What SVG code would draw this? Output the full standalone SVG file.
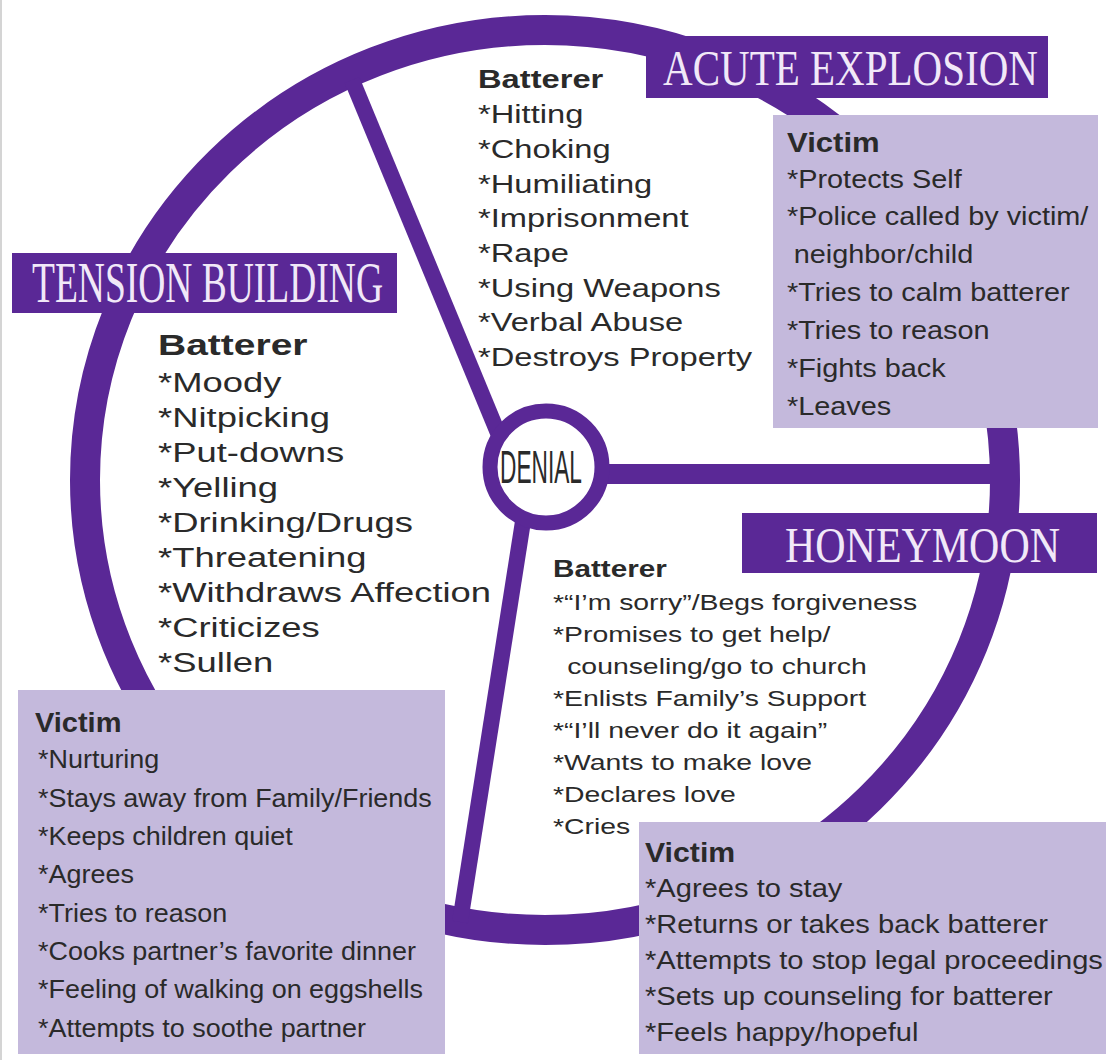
<svg xmlns="http://www.w3.org/2000/svg" width="1109" height="1060" viewBox="0 0 1109 1060">
<style>
.ring{fill:none;stroke:#5a2896;stroke-width:30}
.spoke{stroke:#5a2896;fill:none}
.banner{fill:#5a2896}
.btxt{font-family:"Liberation Serif","Times New Roman",serif;fill:#f1e8f8}
.box{fill:#c4b9dc}
.t{font-family:"Liberation Sans",Arial,sans-serif;fill:#2a2a2a}
.h{font-weight:bold}
</style>
<rect x="0" y="0" width="1109" height="1060" fill="#ffffff"/>
<line x1="1" y1="0" x2="1" y2="1060" stroke="#d4d4d4" stroke-width="2"/>

<g id="connectors">
  <ellipse class="ring" cx="545" cy="480" rx="460" ry="450"/>
  <line class="spoke" x1="352" y1="80" x2="505" y2="450" stroke-width="16"/>
  <line class="spoke" x1="524" y1="515" x2="460" y2="922" stroke-width="16"/>
  <line class="spoke" x1="560" y1="474" x2="1005" y2="474" stroke-width="20"/>
</g>

<g id="denial">
  <circle cx="546" cy="467" r="56" fill="#ffffff" stroke="#5a2896" stroke-width="15"/>
  <text class="t" x="500" y="483" font-size="46" textLength="82" lengthAdjust="spacingAndGlyphs" fill="#3c3c3c">DENIAL</text>
</g>

<g id="acute-banner">
  <rect class="banner" x="646" y="36" width="402" height="62"/>
  <text class="btxt" x="663" y="85" font-size="50" textLength="375" lengthAdjust="spacingAndGlyphs">ACUTE EXPLOSION</text>
</g>

<g id="tension-banner">
  <rect class="banner" x="12" y="253" width="385" height="60"/>
  <text class="btxt" x="32" y="302" font-size="56" textLength="351" lengthAdjust="spacingAndGlyphs">TENSION BUILDING</text>
</g>

<g id="honeymoon-banner">
  <rect class="banner" x="742" y="513" width="355" height="60"/>
  <text class="btxt" x="785" y="562" font-size="50" textLength="275" lengthAdjust="spacingAndGlyphs">HONEYMOON</text>
</g>

<g id="acute-batterer" transform="translate(478,0) scale(1.257,1)">
  <text class="t h" x="0" y="88" font-size="26">Batterer</text>
  <text class="t" font-size="26">
    <tspan x="0" y="123">*Hitting</tspan>
    <tspan x="0" y="158">*Choking</tspan>
    <tspan x="0" y="193">*Humiliating</tspan>
    <tspan x="0" y="227">*Imprisonment</tspan>
    <tspan x="0" y="262">*Rape</tspan>
    <tspan x="0" y="297">*Using Weapons</tspan>
    <tspan x="0" y="331">*Verbal Abuse</tspan>
    <tspan x="0" y="366">*Destroys Property</tspan>
  </text>
</g>

<g id="acute-victim">
  <rect class="box" x="773" y="115" width="325" height="313"/>
  <g transform="translate(787,0) scale(1.11,1)">
    <text class="t h" x="0" y="152" font-size="28">Victim</text>
    <text class="t" font-size="26">
      <tspan x="0" y="188">*Protects Self</tspan>
      <tspan x="0" y="225">*Police called by victim/</tspan>
      <tspan x="6" y="263">neighbor/child</tspan>
      <tspan x="0" y="301">*Tries to calm batterer</tspan>
      <tspan x="0" y="339">*Tries to reason</tspan>
      <tspan x="0" y="377">*Fights back</tspan>
      <tspan x="0" y="415">*Leaves</tspan>
    </text>
  </g>
</g>

<g id="tension-batterer" transform="translate(158,0) scale(1.3,1)">
  <text class="t h" x="0" y="355" font-size="30">Batterer</text>
  <text class="t" font-size="28">
    <tspan x="0" y="392">*Moody</tspan>
    <tspan x="0" y="427">*Nitpicking</tspan>
    <tspan x="0" y="462">*Put-downs</tspan>
    <tspan x="0" y="497">*Yelling</tspan>
    <tspan x="0" y="532">*Drinking/Drugs</tspan>
    <tspan x="0" y="567">*Threatening</tspan>
    <tspan x="0" y="602">*Withdraws Affection</tspan>
    <tspan x="0" y="637">*Criticizes</tspan>
    <tspan x="0" y="672">*Sullen</tspan>
  </text>
</g>

<g id="tension-victim">
  <rect class="box" x="18" y="690" width="427" height="364"/>
  <g transform="translate(38,0) scale(1.037,1)">
    <text class="t h" x="-3" y="732" font-size="28">Victim</text>
    <text class="t" font-size="26">
      <tspan x="0" y="768">*Nurturing</tspan>
      <tspan x="0" y="807">*Stays away from Family/Friends</tspan>
      <tspan x="0" y="845">*Keeps children quiet</tspan>
      <tspan x="0" y="883">*Agrees</tspan>
      <tspan x="0" y="922">*Tries to reason</tspan>
      <tspan x="0" y="960">*Cooks partner’s favorite dinner</tspan>
      <tspan x="0" y="998">*Feeling of walking on eggshells</tspan>
      <tspan x="0" y="1037">*Attempts to soothe partner</tspan>
    </text>
  </g>
</g>

<g id="honeymoon-batterer" transform="translate(553,0) scale(1.29,1)">
  <text class="t h" x="0" y="577" font-size="23">Batterer</text>
  <text class="t" font-size="22">
    <tspan x="0" y="610">*“I’m sorry”/Begs forgiveness</tspan>
    <tspan x="0" y="642">*Promises to get help/</tspan>
    <tspan x="11" y="674">counseling/go to church</tspan>
    <tspan x="0" y="706">*Enlists Family’s Support</tspan>
    <tspan x="0" y="738">*“I’ll never do it again”</tspan>
    <tspan x="0" y="770">*Wants to make love</tspan>
    <tspan x="0" y="802">*Declares love</tspan>
    <tspan x="0" y="834">*Cries</tspan>
  </text>
</g>

<g id="honeymoon-victim">
  <rect class="box" x="639" y="822" width="467" height="232"/>
  <g transform="translate(645,0) scale(1.12,1)">
    <text class="t h" x="0" y="862" font-size="27">Victim</text>
    <text class="t" font-size="26">
      <tspan x="0" y="897">*Agrees to stay</tspan>
      <tspan x="0" y="933">*Returns or takes back batterer</tspan>
      <tspan x="0" y="969">*Attempts to stop legal proceedings</tspan>
      <tspan x="0" y="1005">*Sets up counseling for batterer</tspan>
      <tspan x="0" y="1041">*Feels happy/hopeful</tspan>
    </text>
  </g>
</g>
</svg>
